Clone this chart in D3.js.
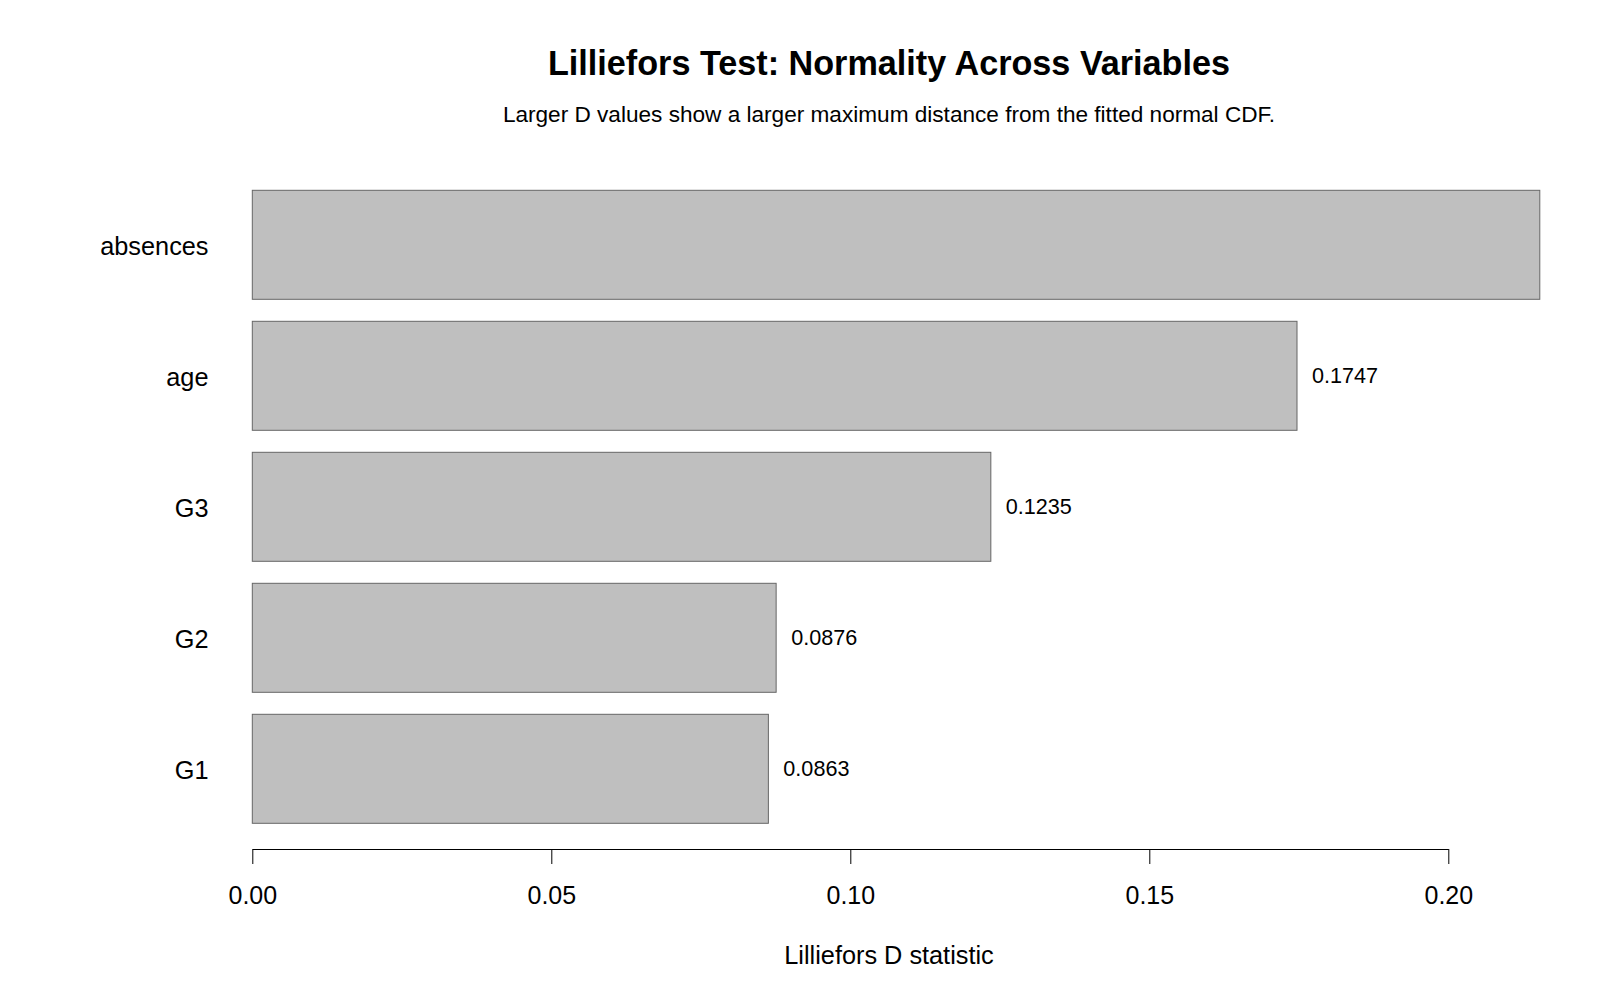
<!DOCTYPE html>
<html>
<head>
<meta charset="utf-8">
<script src="https://cdn.jsdelivr.net/npm/d3@7"></script>
<style>
  body { margin: 0; background: #fff; }
  svg { display: block; font-family: "Liberation Sans", Arial, sans-serif; }
</style>
</head>
<body>
<svg id="chart"></svg>
<script>
var width = 1600, height = 1000;

// Data (top to bottom)
var variables = ["absences", "age", "G3", "G2", "G1"];
var dValues = [0.2153, 0.1747, 0.1235, 0.0876, 0.0863];
var valueLabels = ["", "0.1747", "0.1235", "0.0876", "0.0863"];
var xTicks = [0, 0.05, 0.10, 0.15, 0.20];

var titleText = "Lilliefors Test: Normality Across Variables";
var subtitleText = "Larger D values show a larger maximum distance from the fitted normal CDF.";
var xLabelText = "Lilliefors D statistic";

var rows = variables.map(function (v, i) {
  return { name: v, value: dValues[i], label: valueLabels[i] };
});

var svg = d3.select("#chart")
  .attr("width", width)
  .attr("height", height);

// Scales
var x = d3.scaleLinear()
  .domain([0, 0.2])
  .range([252.3, 1448.3]);

var y = d3.scaleBand()
  .domain(variables)
  .range([179.3, 834.3])
  .paddingInner(0.168)
  .paddingOuter(0.084);

var centerX = 889;

// Plot region clip (bars/labels past the right edge are cut off)
svg.append("defs").append("clipPath")
  .attr("id", "plotClip")
  .append("rect")
  .attr("x", 236).attr("y", 150)
  .attr("width", 1541 - 236).attr("height", 700);

var plot = svg.append("g").attr("clip-path", "url(#plotClip)");

plot.selectAll("rect.bar")
  .data(rows)
  .enter()
  .append("rect")
  .attr("class", "bar")
  .attr("x", x(0))
  .attr("y", function (d) { return y(d.name); })
  .attr("width", function (d) { return x(d.value) - x(0); })
  .attr("height", y.bandwidth())
  .attr("fill", "#bfbfbf")
  .attr("stroke", "#666666")
  .attr("stroke-width", 1);

plot.selectAll("text.val")
  .data(rows)
  .enter()
  .append("text")
  .attr("class", "val")
  .attr("x", function (d) { return x(d.value) + 15; })
  .attr("y", function (d) { return y(d.name) + y.bandwidth() / 2; })
  .attr("dy", "0.35em")
  .attr("font-size", "21.6px")
  .attr("fill", "#000")
  .text(function (d) { return d.label; });

// Category labels
svg.selectAll("text.cat")
  .data(rows)
  .enter()
  .append("text")
  .attr("class", "cat")
  .attr("x", 208.5)
  .attr("y", function (d) { return y(d.name) + y.bandwidth() / 2; })
  .attr("dy", "0.4em")
  .attr("text-anchor", "end")
  .attr("font-size", "25.3px")
  .attr("fill", "#000")
  .text(function (d) { return d.name; });

// X axis
var xAxis = d3.axisBottom(x)
  .tickValues(xTicks)
  .tickFormat(d3.format(".2f"))
  .tickSize(15)
  .tickSizeOuter(0)
  .tickPadding(22.5);

var axisG = svg.append("g")
  .attr("transform", "translate(0,849)")
  .call(xAxis);

axisG.select(".domain").attr("stroke", "#000").attr("stroke-width", 1);
axisG.selectAll(".tick line").attr("stroke", "#000");
axisG.selectAll(".tick text")
  .attr("font-family", "'Liberation Sans', Arial, sans-serif")
  .attr("font-size", "25px")
  .attr("fill", "#000");

// Titles
svg.append("text")
  .attr("x", centerX).attr("y", 75)
  .attr("text-anchor", "middle")
  .attr("font-size", "34.2px")
  .attr("font-weight", "bold")
  .text(titleText);

svg.append("text")
  .attr("x", centerX).attr("y", 122)
  .attr("text-anchor", "middle")
  .attr("font-size", "22.6px")
  .text(subtitleText);

svg.append("text")
  .attr("x", centerX).attr("y", 964)
  .attr("text-anchor", "middle")
  .attr("font-size", "25.3px")
  .text(xLabelText);
</script>
</body>
</html>
